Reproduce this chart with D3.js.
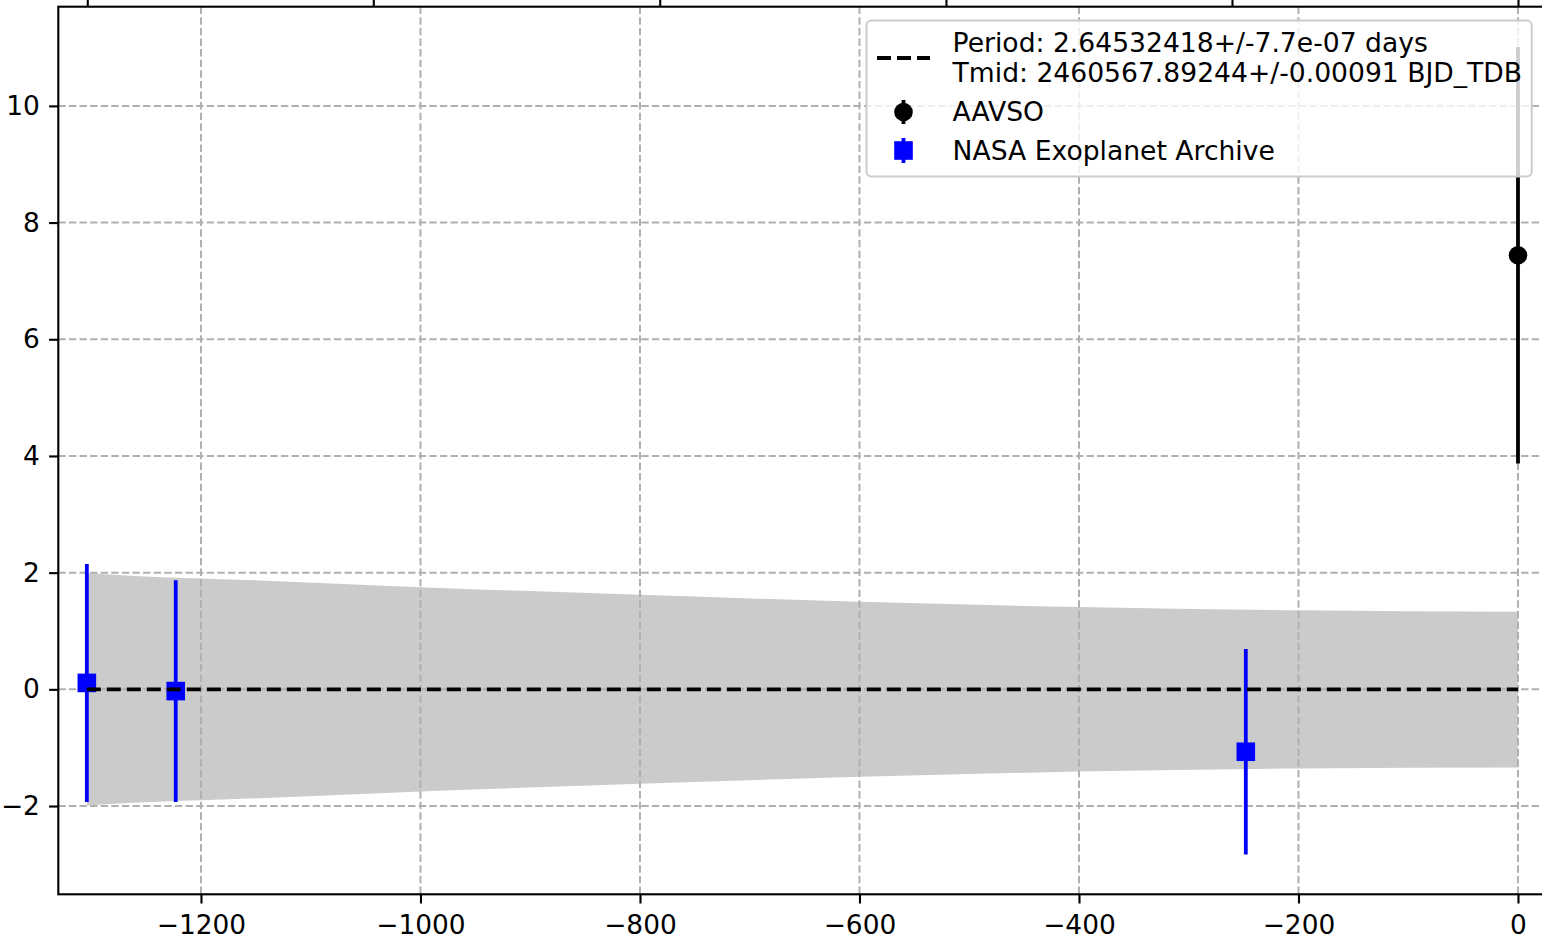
<!DOCTYPE html>
<html>
<head>
<meta charset="utf-8">
<script src="https://cdn.jsdelivr.net/npm/d3@7"></script>
<style>
  body { margin: 0; background: #ffffff; }
  text { font-family: "DejaVu Sans", sans-serif; }
</style>
</head>
<body>
<div id="chart"></div>
<script>
// data (epoch vs O-C in minutes)
const nasaEpochs = [-1304, -1223, -248];
const nasaOC = [0.11, -0.03, -1.07];
const nasaErr = [2.04, 1.90, 1.76];

const aavsoEpochs = [0];
const aavsoOC = [7.44];
const aavsoErr = [3.57];

const fitEpochs = [-1304, 0];
const fitOC = [0, 0];

const bandEpochs = [-1304, -1219, -1200, -1000, -800, -600, -400, -200, 0];
const bandUpper = [1.99, 1.91, 1.90, 1.75, 1.62, 1.50, 1.41, 1.355, 1.33];
const bandLower = [-1.99, -1.91, -1.90, -1.75, -1.62, -1.50, -1.41, -1.355, -1.34];

const xTicks = [-1200, -1000, -800, -600, -400, -200, 0];
const yTicks = [-2, 0, 2, 4, 6, 8, 10];
const topTicks = [-1303.6, -1043, -782, -521.2, -260.6, 0];

const legendPeriod = "Period: 2.64532418+/-7.7e-07 days";
const legendTmid = "Tmid: 2460567.89244+/-0.00091 BJD_TDB";
const legendAavso = "AAVSO";
const legendNasa = "NASA Exoplanet Archive";

const DrawOCChart = () => {
  let width = 1542;
  let height = 944;
  let margin = { "top": 6.7, "bottom": 944 - 894.3, "right": -2, "left": 58.3 };
  let fs = 26.4; // 10pt at this dpi
  let lfs = 26.6;
  let tick = 9.2;

  // 1. SVG
  let svg = d3.select("#chart").append("svg").attr("width", width).attr("height", height);

  // 2. scales
  let xScale = d3.scaleLinear()
    .domain([-1330.0, 23.7])
    .range([margin.left, width - margin.right]);
  let yScale = d3.scaleLinear()
    .domain([-3.513, 11.70])
    .range([height - margin.bottom, margin.top]);

  let x0 = margin.left, x1 = width - margin.right;
  let y0 = margin.top, y1 = height - margin.bottom;

  // 3. shaded uncertainty band
  let band = bandEpochs.map((e, i) => [e, bandLower[i], bandUpper[i]]);
  svg.append("path")
    .datum(band)
    .attr("fill", "#cbcbcb")
    .attr("stroke", "none")
    .attr("d", d3.area()
      .curve(d3.curveMonotoneX)
      .x(function(d) { return xScale(d[0]); })
      .y0(function(d) { return yScale(d[1]); })
      .y1(function(d) { return yScale(d[2]); }));

  // 4. grid
  svg.append("g")
    .selectAll("line")
    .data(xTicks)
    .enter()
    .append("line")
    .attr("x1", d => xScale(d)).attr("x2", d => xScale(d))
    .attr("y1", y0).attr("y2", y1)
    .attr("stroke", "#b0b0b0").attr("stroke-width", 2)
    .attr("stroke-dasharray", "7.4,3.2");
  svg.append("g")
    .selectAll("line")
    .data(yTicks)
    .enter()
    .append("line")
    .attr("x1", x0).attr("x2", x1)
    .attr("y1", d => yScale(d)).attr("y2", d => yScale(d))
    .attr("stroke", "#b0b0b0").attr("stroke-width", 2)
    .attr("stroke-dasharray", "7.4,3.2");

  // 5. error bars
  const drawErr = (epochs, oc, err, color, shape) => {
    let g = svg.append("g");
    g.selectAll("line")
      .data(epochs)
      .enter()
      .append("line")
      .attr("x1", d => xScale(d)).attr("x2", d => xScale(d))
      .attr("y1", (d, i) => yScale(oc[i] - err[i]))
      .attr("y2", (d, i) => yScale(oc[i] + err[i]))
      .attr("stroke", color).attr("stroke-width", 3.8);
    if (shape == "circle") {
      g.selectAll("circle")
        .data(epochs)
        .enter()
        .append("circle")
        .attr("cx", d => xScale(d))
        .attr("cy", (d, i) => yScale(oc[i]))
        .attr("r", 9.3)
        .attr("fill", color);
    } else {
      g.selectAll("rect")
        .data(epochs)
        .enter()
        .append("rect")
        .attr("x", d => xScale(d) - 9.3)
        .attr("y", (d, i) => yScale(oc[i]) - 9.3)
        .attr("width", 18.6).attr("height", 18.6)
        .attr("fill", color);
    }
  };
  drawErr(aavsoEpochs, aavsoOC, aavsoErr, "#000000", "circle");
  drawErr(nasaEpochs, nasaOC, nasaErr, "#0000ff", "square");

  // 6. fitted ephemeris line
  svg.append("path")
    .datum(fitEpochs.map((e, i) => [e, fitOC[i]]))
    .attr("fill", "none")
    .attr("stroke", "#000000")
    .attr("stroke-width", 3.8)
    .attr("stroke-dasharray", "14,6")
    .attr("d", d3.line()
      .x(function(d) { return xScale(d[0]); })
      .y(function(d) { return yScale(d[1]); }));

  // 7. axes
  let axisx = d3.axisBottom(xScale).tickValues(xTicks).tickSize(tick).tickPadding(12).tickFormat(d3.format("d"));
  let axisy = d3.axisLeft(yScale).tickValues(yTicks).tickSize(tick).tickPadding(tick).tickFormat(d3.format("d"));
  let axist = d3.axisTop(xScale).tickValues(topTicks).tickSize(tick).tickFormat("");

  let gx = svg.append("g").attr("transform", "translate(0," + y1 + ")").call(axisx);
  let gy = svg.append("g").attr("transform", "translate(" + x0 + ",0)").call(axisy);
  let gt = svg.append("g").attr("transform", "translate(0," + y0 + ")").call(axist);
  [gx, gy, gt].forEach(g => {
    g.select(".domain").remove();
    g.selectAll(".tick line").attr("stroke", "#000").attr("stroke-width", 2.1);
    g.selectAll(".tick text").attr("fill", "#000").attr("font-size", fs + "px")
      .attr("font-family", "DejaVu Sans");
  });

  // spines
  svg.append("rect")
    .attr("x", x0).attr("y", y0)
    .attr("width", x1 - x0).attr("height", y1 - y0)
    .attr("fill", "none").attr("stroke", "#000").attr("stroke-width", 2.1);

  // 8. legend
  let lg = svg.append("g");
  lg.append("rect")
    .attr("x", 866.5).attr("y", 20.5)
    .attr("width", 1531.7 - 866.5).attr("height", 156)
    .attr("rx", 5).attr("ry", 5)
    .attr("fill", "#ffffff").attr("fill-opacity", 0.8)
    .attr("stroke", "#cccccc").attr("stroke-width", 2);

  lg.append("line")
    .attr("x1", 877).attr("x2", 930).attr("y1", 58).attr("y2", 58)
    .attr("stroke", "#000").attr("stroke-width", 3.8)
    .attr("stroke-dasharray", "14,6");
  lg.append("text").attr("x", 952.6).attr("y", 51.5).attr("font-size", lfs + "px").text(legendPeriod);
  lg.append("text").attr("x", 952.6).attr("y", 81.5).attr("font-size", lfs + "px").text(legendTmid);

  lg.append("line")
    .attr("x1", 903.5).attr("x2", 903.5).attr("y1", 100).attr("y2", 124)
    .attr("stroke", "#000").attr("stroke-width", 3.8);
  lg.append("circle").attr("cx", 903.5).attr("cy", 112).attr("r", 9.3).attr("fill", "#000");
  lg.append("text").attr("x", 952.6).attr("y", 121).attr("font-size", lfs + "px").text(legendAavso);

  lg.append("line")
    .attr("x1", 903.5).attr("x2", 903.5).attr("y1", 138).attr("y2", 163)
    .attr("stroke", "#0000ff").attr("stroke-width", 3.8);
  lg.append("rect").attr("x", 894.2).attr("y", 141.2).attr("width", 18.6).attr("height", 18.6).attr("fill", "#0000ff");
  lg.append("text").attr("x", 952.6).attr("y", 160).attr("font-size", lfs + "px").text(legendNasa);
}

DrawOCChart();
</script>
</body>
</html>
